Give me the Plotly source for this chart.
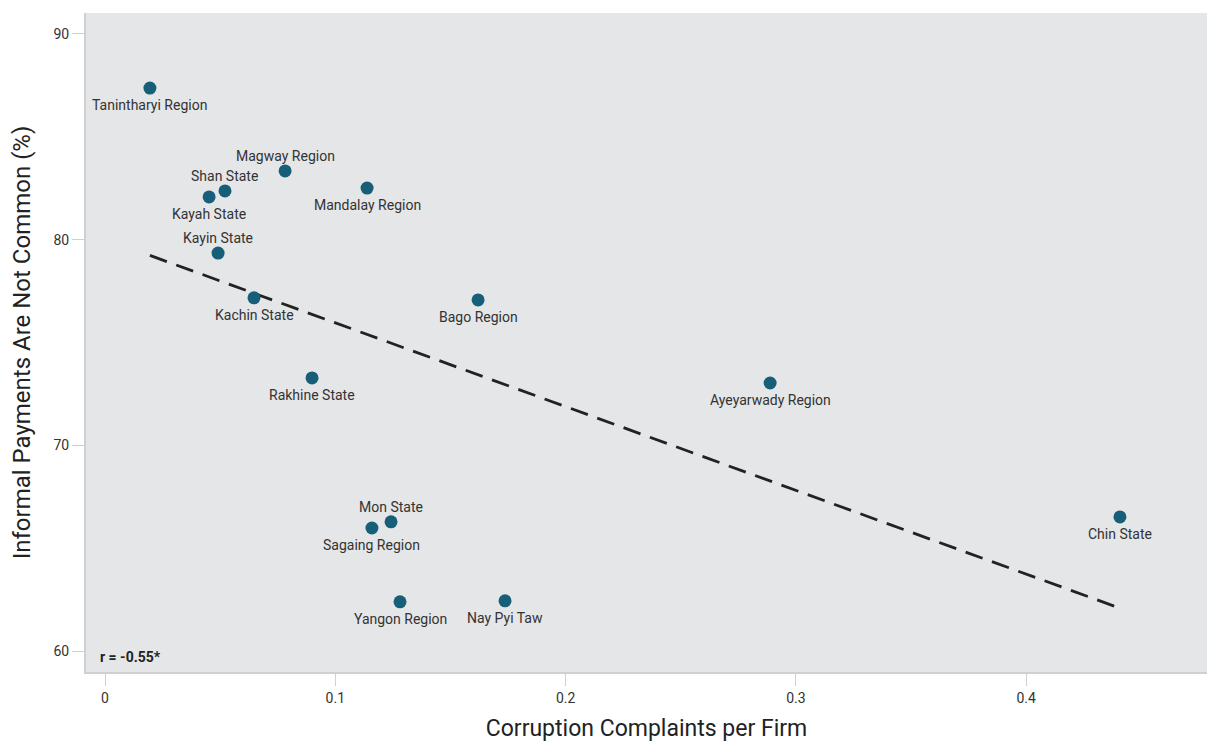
import numpy as np
import plotly.graph_objects as go

regions = ["Tanintharyi Region", "Magway Region", "Shan State", "Kayah State",
           "Mandalay Region", "Kayin State", "Kachin State", "Bago Region",
           "Rakhine State", "Ayeyarwady Region", "Mon State", "Sagaing Region",
           "Chin State", "Yangon Region", "Nay Pyi Taw"]
complaints = [0.0195, 0.0782, 0.0521, 0.0452, 0.1138, 0.0491, 0.0647, 0.1620,
              0.0899, 0.2888, 0.1242, 0.1159, 0.4407, 0.1281, 0.1737]
not_common = [87.37, 83.34, 82.37, 82.08, 82.51, 79.35, 77.17, 77.07,
              73.28, 73.03, 66.28, 65.98, 66.52, 62.39, 62.44]
label_pos = ["below", "above", "above", "below",
             "below", "above", "below", "below",
             "below", "below", "above", "below",
             "below", "below", "below"]
x_ticks = [0, 0.1, 0.2, 0.3, 0.4]
y_ticks = [60, 70, 80, 90]
r_label = "r = -0.55*"

FONT = "Roboto"
x = np.array(complaints)
y = np.array(not_common)
slope, intercept = np.polyfit(x, y, 1)
fx = np.array([x.min(), x.max()])
fy = slope * fx + intercept

fig = go.Figure()
fig.add_trace(go.Scatter(
    x=fx, y=fy, mode="lines",
    line=dict(color="#222222", width=2.8, dash="18px,10px"),
    hoverinfo="skip", showlegend=False))
fig.add_trace(go.Scatter(
    x=complaints, y=not_common, mode="markers",
    marker=dict(color="#175e78", size=13),
    text=regions, hoverinfo="text",
    showlegend=False))

for name, xv, yv, pos in zip(regions, complaints, not_common, label_pos):
    fig.add_annotation(
        x=xv, y=yv, xref="x", yref="y", text=name, showarrow=False,
        yshift=(-17 if pos == "below" else 15),
        font=dict(family=FONT, size=14, color="#333333"))

fig.add_annotation(
    xref="paper", yref="paper", x=0.011, y=0.008,
    xanchor="left", yanchor="bottom", text="<b>" + r_label + "</b>",
    showarrow=False, font=dict(family=FONT, size=14, color="#222222"))

fig.update_layout(
    width=1207, height=743,
    margin=dict(l=86, r=0, t=13, b=71),
    paper_bgcolor="white", plot_bgcolor="#e5e6e8",
    font=dict(family=FONT, color="#333333"),
    xaxis=dict(range=[-0.00825, 0.4785], tickvals=x_ticks,
               ticktext=[str(v) for v in x_ticks],
               showgrid=False, zeroline=False,
               showline=True, linecolor="#d0d0d0", linewidth=2,
               ticks="outside", ticklen=12, tickcolor="#d0d0d0", tickwidth=1,
               tickfont=dict(family=FONT, size=14, color="#333333"),
               title=dict(text="Corruption Complaints per Firm",
                          font=dict(family=FONT, size=23, color="#222222"),
                          standoff=15)),
    yaxis=dict(range=[58.98, 91.02], tickvals=y_ticks,
               showgrid=False, zeroline=False,
               showline=True, linecolor="#d0d0d0", linewidth=2,
               ticks="outside", ticklen=12, tickcolor="#d0d0d0", tickwidth=1,
               tickfont=dict(family=FONT, size=14, color="#333333"),
               title=dict(text="Informal Payments Are Not Common (%)",
                          font=dict(family=FONT, size=24, color="#222222"),
                          standoff=16)),
)

fig.write_html(
    "out.html",
    config={"displayModeBar": False},
    post_script="document.body.style.margin='0';"
                "document.documentElement.style.overflow='hidden';"
                "document.body.style.overflow='hidden';")
